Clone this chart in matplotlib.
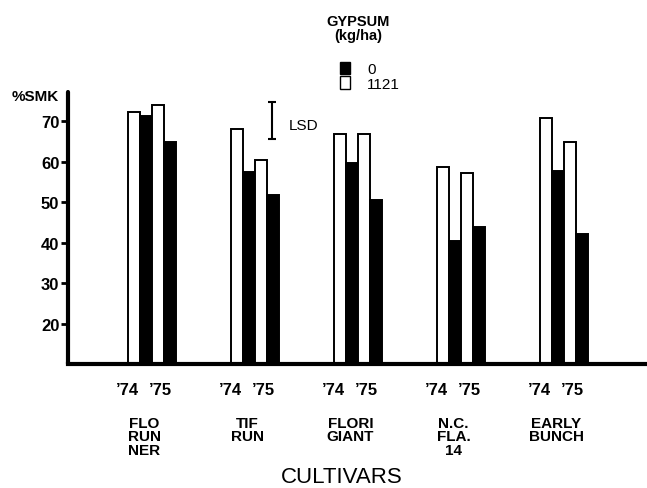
import matplotlib.pyplot as plt
from matplotlib.patches import Patch

plt.rcParams['font.family'] = ['Liberation Sans', 'DejaVu Sans']

# data (% sound mature kernels)
cultivars = ['FLO\nRUN\nNER', 'TIF\nRUN', 'FLORI\nGIANT', 'N.C.\nFLA.\n14', 'EARLY\nBUNCH']
years = ['\u201974', '\u201975']
gyp1121_74 = [72.2, 68.0, 66.9, 58.7, 70.8]
gyp0_74 = [71.3, 57.4, 59.7, 40.4, 57.6]
gyp1121_75 = [73.9, 60.3, 66.9, 57.2, 64.8]
gyp0_75 = [64.8, 51.7, 50.5, 43.9, 42.0]
lsd_low, lsd_high = 65.6, 74.7
yticks = [20, 30, 40, 50, 60, 70]

fig = plt.figure(figsize=(6.47, 4.89), dpi=100)
ax = fig.add_axes([67.7 / 647, (489 - 365) / 489, 1 - 67.7 / 647, 272 / 489])

w = 0.117
x = list(range(len(cultivars)))
series = [(gyp1121_74, 'white', -1.5), (gyp0_74, 'black', -0.5),
          (gyp1121_75, 'white', 0.5), (gyp0_75, 'black', 1.5)]
for vals, col, off in series:
    ax.bar([i + off * w for i in x], vals, width=w, color=col,
           edgecolor='black', linewidth=1.4, zorder=2)

ax.set_xlim(-0.816, 4.808)
ax.set_ylim(10, 77.2)

for s in ['top', 'right']:
    ax.spines[s].set_visible(False)
ax.spines['left'].set_linewidth(3)
ax.spines['bottom'].set_linewidth(3)
ax.spines['left'].set_capstyle('round')

ax.set_yticks(yticks)
ax.set_yticklabels([str(t) for t in yticks], fontsize=12, fontweight='bold')
ax.tick_params(axis='y', length=5, width=2, pad=1)

# year labels as x ticks
xt, xl = [], []
for i in x:
    xt += [i - 0.24, i + 0.08]
    xl += years
ax.set_xticks(xt)
ax.set_xticklabels(xl, fontsize=12, fontweight='bold')
ax.tick_params(axis='x', length=0, pad=13)

for i, name in zip(x, cultivars):
    ax.text(i - 0.07, -0.19, name, transform=ax.get_xaxis_transform(),
            ha='center', va='top', fontsize=11, fontweight='bold',
            linespacing=0.95)

# LSD bar
ax.errorbar([1.171], [(lsd_low + lsd_high) / 2], yerr=[(lsd_high - lsd_low) / 2],
            fmt='none', ecolor='black', elinewidth=1.5, capsize=3, capthick=1.5)
ax.text(1.33, 69.1, 'LSD', fontsize=11, va='center', ha='left')

fig.text(12 / 647, 1 - 97 / 489, '%SMK', fontsize=11, fontweight='bold',
         va='center', ha='left')
fig.text(358 / 647, 1 - 29 / 489, 'GYPSUM\n(kg/ha)', fontsize=10.5,
         fontweight='bold', ha='center', va='center', linespacing=1.05)

handles = [Patch(facecolor='black', edgecolor='black', label='0'),
           Patch(facecolor='white', edgecolor='black', label='1121')]
fig.legend(handles=handles, loc='upper left',
           bbox_to_anchor=(326 / 647, 1 - 49 / 489), frameon=False,
           handlelength=0.7, handleheight=0.9, handletextpad=1.1,
           labelspacing=0.0, fontsize=11)

fig.text(342 / 647, 1 - 478 / 489, 'CULTIVARS', fontsize=16,
         ha='center', va='center')

fig.savefig('out.png', dpi=100)
